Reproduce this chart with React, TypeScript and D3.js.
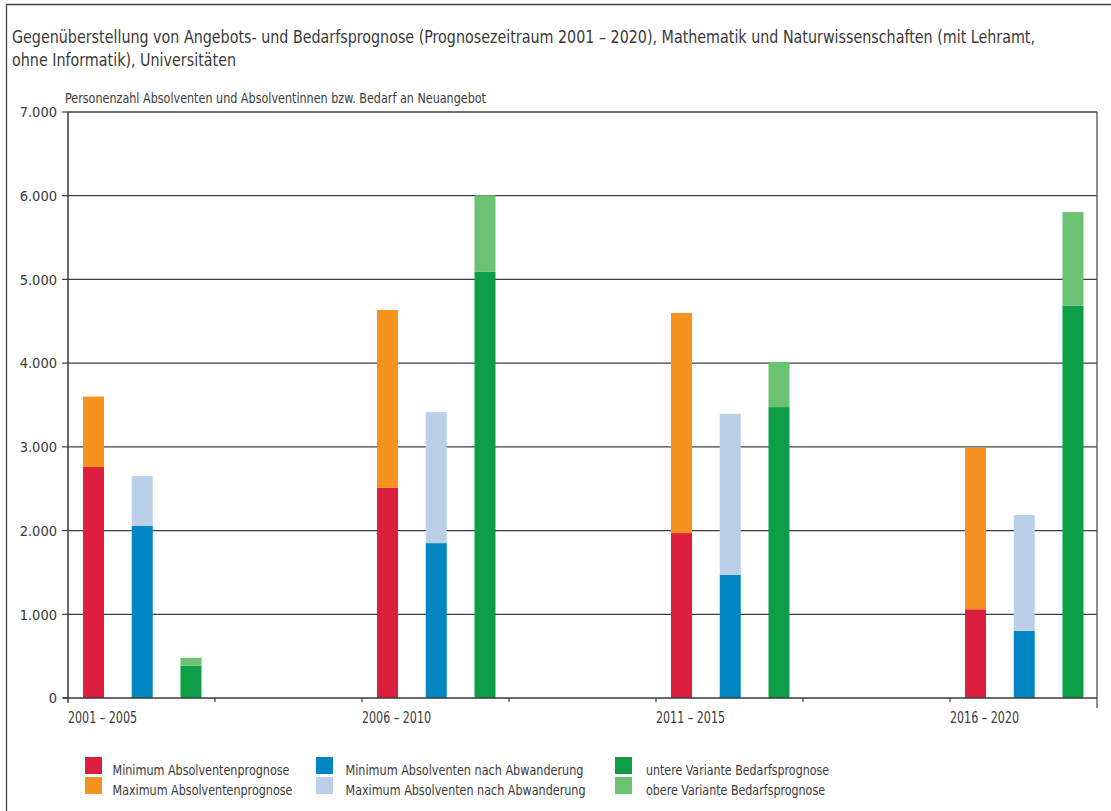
import React, { useEffect, useRef } from 'react';
import * as d3 from 'd3';

// Prognose periods (each occupies every second slot on the x axis)
const periods = ['2001 – 2005', '2006 – 2010', '2011 – 2015', '2016 – 2020'];

// Absolventenprognose
const minAbsolventen = [2760, 2510, 1970, 1060];
const maxAbsolventen = [3600, 4635, 4600, 2990];
// Absolventen nach Abwanderung
const minAbwanderung = [2055, 1850, 1470, 800];
const maxAbwanderung = [2650, 3415, 3395, 2185];
// Bedarfsprognose
const untereBedarf = [385, 5090, 3475, 4685];
const obereBedarf = [480, 6005, 4015, 5805];

const yTicks = [0, 1000, 2000, 3000, 4000, 5000, 6000, 7000];

const groups = ['absolventen', 'abwanderung', 'bedarf'];

const legendItems = [
  { label: 'Minimum Absolventenprognose', color: '#DC1F3E', col: 0, row: 0, w: 177 },
  { label: 'Maximum Absolventenprognose', color: '#F6921E', col: 0, row: 1, w: 180 },
  { label: 'Minimum Absolventen nach Abwanderung', color: '#0086C1', col: 1, row: 0, w: 238 },
  { label: 'Maximum Absolventen nach Abwanderung', color: '#BBCFE9', col: 1, row: 1, w: 240 },
  { label: 'untere Variante Bedarfsprognose', color: '#0B9E47', col: 2, row: 0, w: 183 },
  { label: 'obere Variante Bedarfsprognose', color: '#6CC273', col: 2, row: 1, w: 179 },
];

const FONT = "'Liberation Sans Narrow', 'DejaVu Sans Condensed', Roboto, sans-serif";
const TEXT = '#3a3a3a';

function App() {
  const svgRef = useRef<SVGSVGElement>(null);

  useEffect(() => {
    const svg = d3.select(svgRef.current);
    svg.selectAll('*').remove();

    const left = 68;
    const right = 1097;
    const top = 112;
    const bottom = 698;

    const y = d3.scaleLinear().domain([0, 7000]).range([bottom, top]);

    // 7 slots, a period sits in every other slot
    const slots = d3.range(periods.length * 2 - 1);
    const x = d3.scaleBand<number>().domain(slots).range([left, right]).padding(0);
    const inner = d3.scaleBand<string>()
      .domain(groups)
      .range([0, 148.5])
      .paddingInner(0.569)
      .paddingOuter(0.308);

    // frame
    svg.append('path')
      .attr('d', 'M6.5,811 L6.5,4.5 L1111,4.5')
      .attr('fill', 'none')
      .attr('stroke', '#444')
      .attr('stroke-width', 1.3);

    // title
    const title = svg.append('text')
      .attr('font-family', FONT)
      .attr('font-size', 17)
      .attr('fill', TEXT);
    title.append('tspan').attr('x', 12).attr('y', 43)
      .attr('textLength', 1023).attr('lengthAdjust', 'spacingAndGlyphs')
      .text('Gegenüberstellung von Angebots- und Bedarfsprognose (Prognosezeitraum 2001 – 2020), Mathematik und Naturwissenschaften (mit Lehramt,');
    title.append('tspan').attr('x', 12).attr('y', 66)
      .attr('textLength', 224).attr('lengthAdjust', 'spacingAndGlyphs')
      .text('ohne Informatik), Universitäten');

    svg.append('text')
      .attr('x', 65).attr('y', 103)
      .attr('font-family', FONT)
      .attr('font-size', 13.5)
      .attr('fill', TEXT)
      .attr('textLength', 421).attr('lengthAdjust', 'spacingAndGlyphs')
      .text('Personenzahl Absolventen und Absolventinnen bzw. Bedarf an Neuangebot');

    // gridlines
    svg.append('g')
      .selectAll('line')
      .data(yTicks.filter((t) => t > 0))
      .enter()
      .append('line')
      .attr('x1', left).attr('x2', right)
      .attr('y1', (d) => y(d)).attr('y2', (d) => y(d))
      .attr('stroke', '#3f3f3f')
      .attr('stroke-width', 1.3);

    // bars
    const barData: { x: number; y0: number; y1: number; color: string }[] = [];
    periods.forEach((p, i) => {
      const sx = (x(i * 2) as number);
      const series = [
        [minAbsolventen[i], maxAbsolventen[i], '#DC1F3E', '#F6921E'],
        [minAbwanderung[i], maxAbwanderung[i], '#0086C1', '#BBCFE9'],
        [untereBedarf[i], obereBedarf[i], '#0B9E47', '#6CC273'],
      ] as [number, number, string, string][];
      series.forEach(([lo, hi, c1, c2], j) => {
        const bx = sx + (inner(groups[j]) as number);
        barData.push({ x: bx, y0: 0, y1: lo, color: c1 });
        barData.push({ x: bx, y0: lo, y1: hi, color: c2 });
      });
    });

    svg.append('g')
      .selectAll('rect')
      .data(barData)
      .enter()
      .append('rect')
      .attr('x', (d) => d.x)
      .attr('width', inner.bandwidth())
      .attr('y', (d) => y(d.y1))
      .attr('height', (d) => y(d.y0) - y(d.y1))
      .attr('fill', (d) => d.color);

    // axes lines
    const axisColor = '#3a3a3a';
    svg.append('line')
      .attr('x1', left).attr('x2', left)
      .attr('y1', top).attr('y2', bottom + 5)
      .attr('stroke', axisColor).attr('stroke-width', 1.5);
    svg.append('line')
      .attr('x1', right).attr('x2', right)
      .attr('y1', top).attr('y2', bottom + 10)
      .attr('stroke', '#666').attr('stroke-width', 1.5);
    svg.append('line')
      .attr('x1', left - 5).attr('x2', right)
      .attr('y1', bottom).attr('y2', bottom)
      .attr('stroke', axisColor).attr('stroke-width', 1.6);

    // y ticks and labels
    const yAxis = svg.append('g');
    yAxis.selectAll('line')
      .data(yTicks)
      .enter()
      .append('line')
      .attr('x1', left - 6).attr('x2', left)
      .attr('y1', (d) => y(d)).attr('y2', (d) => y(d))
      .attr('stroke', axisColor).attr('stroke-width', 1.2);
    yAxis.selectAll('text')
      .data(yTicks)
      .enter()
      .append('text')
      .attr('x', left - 11)
      .attr('y', (d) => y(d))
      .attr('dy', '0.36em')
      .attr('text-anchor', 'end')
      .attr('font-family', FONT)
      .attr('font-size', 14.5)
      .attr('fill', TEXT)
      .text((d) => (d === 0 ? '0' : d3.format(',')(d).replace(',', '.')));

    // x ticks at slot boundaries
    svg.append('g')
      .selectAll('line')
      .data(slots.slice(1))
      .enter()
      .append('line')
      .attr('x1', (d) => x(d) as number).attr('x2', (d) => x(d) as number)
      .attr('y1', bottom).attr('y2', bottom + 4)
      .attr('stroke', axisColor).attr('stroke-width', 1.2);

    svg.append('g')
      .selectAll('text')
      .data(periods)
      .enter()
      .append('text')
      .attr('x', (d, i) => x(i * 2) as number)
      .attr('y', 723)
      .attr('font-family', FONT)
      .attr('font-size', 15)
      .attr('fill', TEXT)
      .attr('textLength', 69).attr('lengthAdjust', 'spacingAndGlyphs')
      .text((d) => d);

    // legend
    const swatchX = [85, 316, 615];
    const textX = [112.5, 345.5, 646];
    const rowY = [757, 777];
    const legend = svg.append('g');
    legend.selectAll('rect')
      .data(legendItems)
      .enter()
      .append('rect')
      .attr('x', (d) => swatchX[d.col])
      .attr('y', (d) => rowY[d.row])
      .attr('width', 17)
      .attr('height', 17)
      .attr('fill', (d) => d.color);
    legend.selectAll('text')
      .data(legendItems)
      .enter()
      .append('text')
      .attr('x', (d) => textX[d.col])
      .attr('y', (d) => rowY[d.row] + 18)
      .attr('font-family', FONT)
      .attr('font-size', 14.5)
      .attr('fill', TEXT)
      .attr('textLength', (d) => d.w).attr('lengthAdjust', 'spacingAndGlyphs')
      .text((d) => d.label);
  }, []);

  return (
    <div style={{ position: 'absolute', left: 0, top: 0 }}>
      <svg ref={svgRef} width={1111} height={811} style={{ display: 'block', background: '#fff' }} />
    </div>
  );
}

export default App;
